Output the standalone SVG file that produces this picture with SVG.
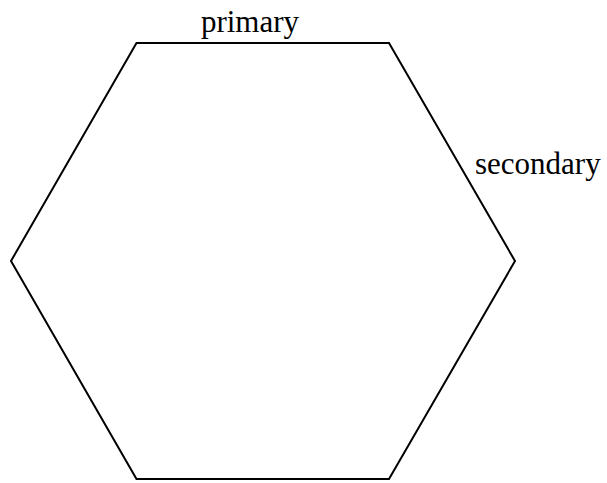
<svg xmlns="http://www.w3.org/2000/svg" width="607" height="483" viewBox="0 0 607 483">
<style>
.lbl{font-family:"Liberation Serif","Times New Roman",serif;font-size:31px;fill:#000}
.hex{fill:none;stroke:#000;stroke-width:2;stroke-linejoin:miter}
</style>
<rect width="607" height="483" fill="#fff"/>
<g id="hexagon">
<polygon class="hex" points="136.5,43 389,43 515,261 389,479 136.5,479 11,261"/>
</g>
<g id="labels">
<text class="lbl" x="250" y="32" text-anchor="middle">primary</text>
<text class="lbl" x="475" y="174">secondary</text>
</g>
</svg>
